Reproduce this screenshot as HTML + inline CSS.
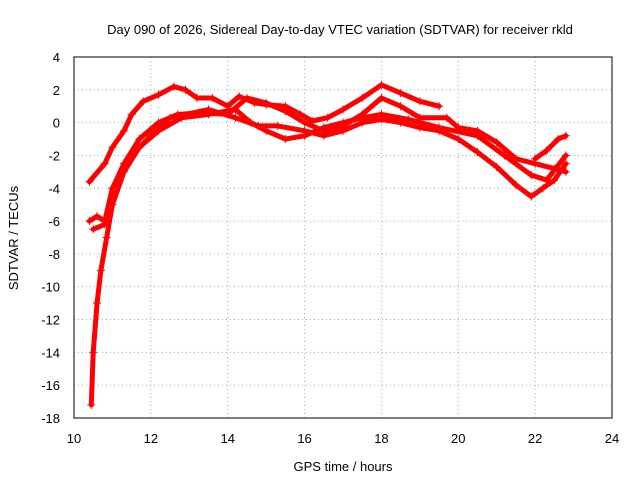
<!DOCTYPE html>
<html><head><meta charset="utf-8"><style>
body{margin:0;background:#fff}
svg text{font-family:"Liberation Sans",sans-serif;font-size:13px;fill:#000}
</style></head><body>
<svg id="c" width="640" height="480" xmlns="http://www.w3.org/2000/svg">
<rect width="640" height="480" fill="#fff"/>
<text x="340" y="34" text-anchor="middle">Day 090 of 2026, Sidereal Day-to-day VTEC variation (SDTVAR) for receiver rkld</text>
<text x="343" y="471" text-anchor="middle">GPS time / hours</text>
<text transform="translate(18,238) rotate(-90)" text-anchor="middle">SDTVAR / TECUs</text>
<g id="grid"></g><g id="ticks"></g><g id="series"></g>
<rect x="74" y="57" width="538" height="361" fill="none" stroke="#000"/>
</svg>
<script>
const xTicks=[10,12,14,16,18,20,22,24];
const yTicks=[4,2,0,-2,-4,-6,-8,-10,-12,-14,-16,-18];
const trackA=[[10.4,-3.6],[10.8,-2.5],[11.0,-1.5],[11.3,-0.5],[11.5,0.5],[11.8,1.3],[12.2,1.7],[12.6,2.2],[12.9,2.0],[13.2,1.5],[13.6,1.5],[14.0,1.0],[14.3,1.6],[14.7,1.2],[15.0,1.1],[15.5,1.0],[15.9,0.5],[16.2,0.1],[16.6,0.3],[17.0,0.8],[17.5,1.5],[18.0,2.3],[18.5,1.8],[19.0,1.3],[19.5,1.0]];
const trackB=[[10.45,-17.2],[10.5,-14],[10.6,-11],[10.7,-9],[10.85,-7],[11.0,-5],[11.3,-3],[11.7,-1.5],[12.2,-0.5],[12.8,0.3],[13.5,0.5],[14.2,0.8],[14.6,0.0],[15.0,-0.5],[15.5,-1.0],[16.0,-0.8],[16.5,-0.3],[17.0,0.0],[17.5,0.3],[18.0,0.5],[18.7,0.2],[19.5,-0.3],[20.5,-0.8],[21.2,-2.0],[21.9,-3.2],[22.3,-3.5],[22.8,-2.0]];
const trackC=[[10.4,-6.0],[10.6,-5.7],[10.8,-6.0],[11.0,-4.0],[11.3,-2.5],[11.7,-1.0],[12.2,0.0],[12.7,0.5],[13.3,0.6],[14.0,0.5],[14.5,1.5],[15.0,1.2],[15.5,0.7],[16.0,0.0],[16.5,-0.5],[17.0,-0.2],[17.5,0.5],[18.0,1.5],[18.5,1.0],[19.0,0.3],[19.7,0.3],[20.0,-0.3],[20.5,-0.5],[21.0,-1.2],[21.5,-2.2],[22.0,-2.5],[22.5,-2.8],[22.8,-3.0]];
const trackD=[[10.5,-6.5],[10.8,-6.2],[11.0,-4.0],[11.5,-2.0],[12.0,-0.8],[12.5,0.3],[13.5,0.8],[14.2,0.3],[14.8,-0.2],[15.3,-0.2],[16.0,-0.5],[16.5,-0.8],[17.0,-0.5],[17.5,0.0],[18.0,0.2],[18.5,0.0],[19.0,-0.3],[19.5,-0.5],[20.0,-1.0],[20.5,-1.8],[21.0,-2.7],[21.5,-3.8],[21.9,-4.5],[22.2,-4.0],[22.5,-3.5],[22.8,-2.5]];
const trackE=[[22.0,-2.2],[22.3,-1.7],[22.6,-1.0],[22.8,-0.8]];
const tracks=[trackA,trackB,trackC,trackD,trackE];
const X=v=>74+(v-10)*538/14, Y=v=>57+(4-v)*361/22;
const NS="http://www.w3.org/2000/svg";
function mk(t,a,p){const e=document.createElementNS(NS,t);for(const k in a)e.setAttribute(k,a[k]);p.appendChild(e);return e;}
const g=document.getElementById('grid'),tk=document.getElementById('ticks'),sr=document.getElementById('series');
xTicks.forEach(v=>{
 if(v>10&&v<24){const l=mk('line',{x1:X(v),x2:X(v),y1:57,y2:418,stroke:'#aaa','stroke-dasharray':'1,3'},g);
 
 }
 const t=mk('text',{x:X(v),y:443,'text-anchor':'middle'},tk);t.textContent=v;
 
 
});
yTicks.forEach(v=>{
 if(v<4&&v>-18){const l=mk('line',{x1:74,x2:612,y1:Y(v),y2:Y(v),stroke:'#aaa','stroke-dasharray':'1,3'},g);
 
 }
 const t=mk('text',{x:60,y:Y(v)+5,'text-anchor':'end'},tk);t.textContent=v;
 
 
});
tracks.forEach((tr,i)=>{
 const p=mk('polyline',{points:tr.map(d=>X(d[0])+','+Y(d[1])).join(' '),fill:'none',stroke:'#f00','stroke-width':5,'stroke-linejoin':'round','stroke-linecap':'round'},sr);
 
 
 tr.forEach(d=>{const m=mk('path',{d:`M${X(d[0])-4},${Y(d[1])}h8M${X(d[0])},${Y(d[1])-4}v8`,stroke:'#f00','stroke-width':1},sr);
 
 });
});
</script>
</body></html>
